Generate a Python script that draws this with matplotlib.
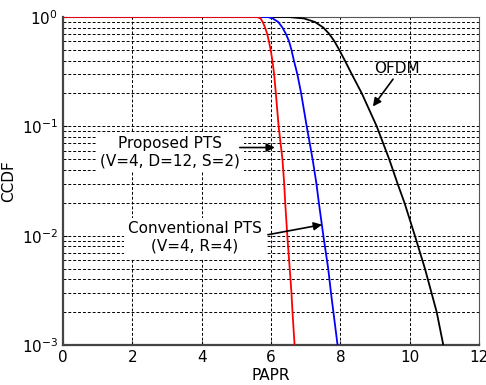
import matplotlib
matplotlib.use("Agg")
import matplotlib.pyplot as plt
from matplotlib.ticker import LogLocator, NullFormatter, FixedLocator

# Data
ccdf_proposed = [1, 1, 0.97, 0.9, 0.8, 0.7, 0.6, 0.5, 0.4, 0.3, 0.2, 0.1,
                 0.05, 0.03, 0.02, 0.01, 0.005, 0.003, 0.002, 0.001]
papr_proposed = [0, 5.6, 5.7, 5.76, 5.83, 5.89, 5.94, 5.99, 6.04, 6.09, 6.14, 6.22,
                 6.33, 6.38, 6.41, 6.47, 6.54, 6.59, 6.62, 6.68]

ccdf_conv = [1, 1, 0.97, 0.9, 0.8, 0.7, 0.6, 0.5, 0.4, 0.3, 0.2, 0.1,
             0.05, 0.03, 0.02, 0.01, 0.005, 0.003, 0.002, 0.001]
papr_conv = [0, 5.9, 6.05, 6.21, 6.33, 6.43, 6.52, 6.59, 6.66, 6.76, 6.87, 7.03,
             7.20, 7.31, 7.38, 7.51, 7.65, 7.73, 7.80, 7.92]

ccdf_ofdm = [1, 1, 0.97, 0.9, 0.8, 0.7, 0.6, 0.5, 0.4, 0.3, 0.2, 0.1,
             0.05, 0.03, 0.02, 0.01, 0.005, 0.003, 0.002, 0.001]
papr_ofdm = [0, 6.5, 6.95, 7.27, 7.51, 7.68, 7.83, 7.97, 8.13, 8.33, 8.62, 9.05,
             9.41, 9.65, 9.85, 10.15, 10.44, 10.63, 10.78, 10.97]

xticks = [0, 2, 4, 6, 8, 10, 12]

fig = plt.figure(figsize=(4.86, 3.85), dpi=100)
ax = fig.add_axes([63/486, 40/385, (479-63)/486, (345-17)/385])

ax.plot(papr_ofdm, ccdf_ofdm, color='black', lw=1.3, zorder=3)
ax.plot(papr_conv, ccdf_conv, color='#0000ff', lw=1.3, zorder=3)
ax.plot(papr_proposed, ccdf_proposed, color='#ff0000', lw=1.3, zorder=3)

ax.set_yscale('log')
ax.set_xlim(0, 12)
ax.set_ylim(1e-3, 1)
ax.xaxis.set_major_locator(FixedLocator(xticks))
ax.yaxis.set_major_locator(LogLocator(base=10, numticks=10))
ax.yaxis.set_minor_locator(LogLocator(base=10, subs=range(2, 10), numticks=20))
ax.yaxis.set_minor_formatter(NullFormatter())

ax.set_axisbelow(True)
ax.grid(True, which='major', axis='both', color='black', linestyle=(0, (3, 2)), lw=0.7)
ax.grid(True, which='minor', axis='y', color='black', linestyle=(0, (3, 2)), lw=0.7)

ax.tick_params(which='both', direction='in', labelsize=11)
ax.tick_params(which='minor', length=0)
ax.tick_params(which='major', length=3)

for side in ['left', 'bottom']:
    ax.spines[side].set_linewidth(1.6)
    ax.spines[side].set_color('#444444')
for side in ['top', 'right']:
    ax.spines[side].set_linewidth(0.8)
    ax.spines[side].set_color('#555555')

ax.set_xlabel('PAPR', fontsize=11, labelpad=2)
ax.set_ylabel('CCDF', fontsize=11, labelpad=4)

box = dict(boxstyle='square,pad=0.25', fc='white', ec='none')
ax.text(9.63, 0.34, 'OFDM', ha='center', va='center', fontsize=11, zorder=4)
ax.text(3.09, 0.0577, 'Proposed PTS\n(V=4, D=12, S=2)', ha='center', va='center',
        fontsize=11, multialignment='center', bbox=box, zorder=4)
ax.text(3.81, 0.0096, 'Conventional PTS\n(V=4, R=4)', ha='center', va='center',
        fontsize=11, multialignment='center', bbox=box, zorder=4)

arrow = dict(arrowstyle='-|>', color='black', lw=1.2, mutation_scale=12, shrinkA=0, shrinkB=0)
ax.annotate('', xy=(8.94, 0.152), xytext=(9.52, 0.27), arrowprops=arrow, zorder=5)
ax.annotate('', xy=(6.11, 0.064), xytext=(5.1, 0.064), arrowprops=arrow, zorder=5)
ax.annotate('', xy=(7.47, 0.0126), xytext=(5.91, 0.0102), arrowprops=arrow, zorder=5)

fig.savefig('out.png', dpi=100)
